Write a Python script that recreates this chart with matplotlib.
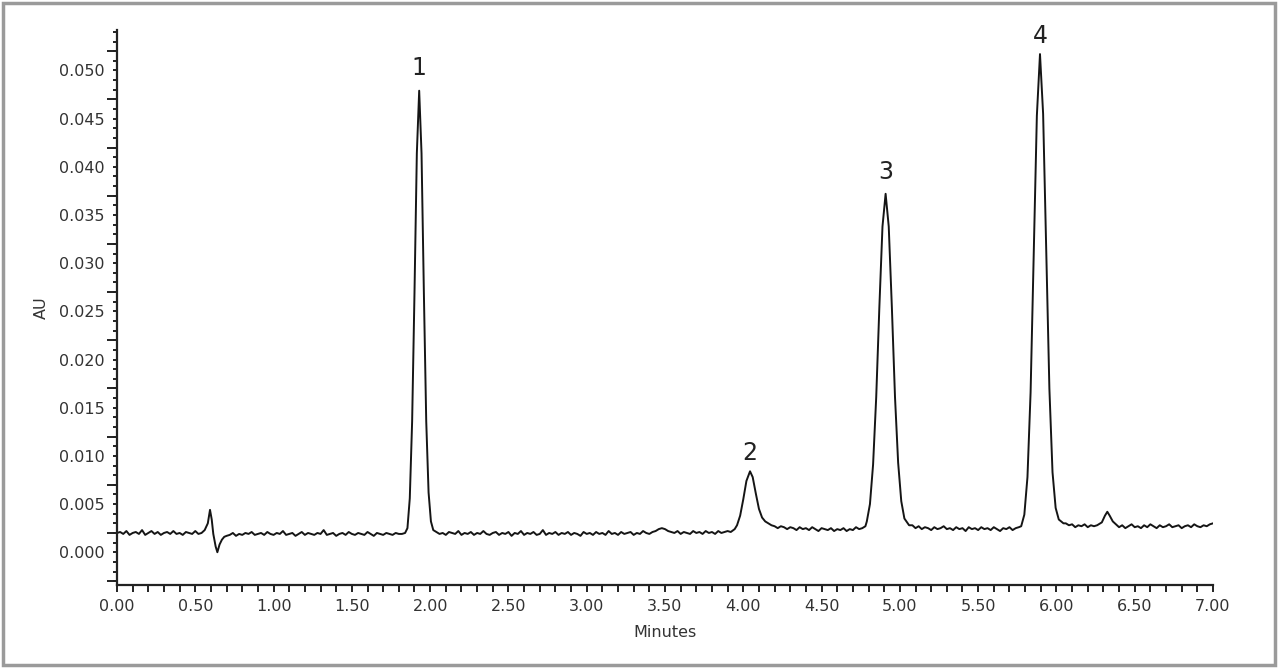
import numpy as np
import matplotlib.pyplot as plt
from matplotlib.patches import Rectangle
from matplotlib.ticker import MultipleLocator, FixedLocator, NullFormatter

# absorbance values below are in units of 0.001 AU (converted at the end)

# baseline stretches: (start, end, values sampled every 0.02 min)
base_a = (0.00, 0.56, [2.0, 2.1, 1.9, 2.2, 1.8, 2.0, 2.1, 1.9, 2.3, 1.8, 2.0, 2.2, 1.9, 2.1, 1.8,
                       2.0, 2.1, 1.9, 2.2, 1.9, 2.0, 1.8, 2.1, 2.0, 1.9, 2.2, 1.9, 2.0, 2.3])
base_b = (0.72, 1.84, [1.8, 2.0, 1.7, 1.9, 1.8, 2.0, 1.9, 2.1, 1.8, 1.9, 2.0, 1.8, 2.1, 1.9, 1.8,
                       2.0, 1.9, 2.2, 1.8, 1.9, 2.0, 1.7, 1.9, 2.1, 1.8, 2.0, 1.9, 1.8, 2.0, 1.9,
                       2.3, 1.8, 1.9, 2.0, 1.7, 1.9, 2.0, 1.8, 2.1, 1.9, 1.8, 2.0, 1.9, 1.8, 2.1,
                       1.9, 1.7, 2.0, 1.9, 1.8, 2.0, 1.9, 1.8, 2.0, 1.9, 1.9, 2.0])
base_c = (2.04, 3.92, [2.1, 1.9, 2.0, 1.8, 2.1, 2.0, 1.9, 2.2, 1.8, 2.0,
                       1.9, 2.1, 1.8, 2.0, 1.9, 2.2, 1.9, 1.8, 2.0, 2.1,
                       1.8, 2.0, 1.9, 2.1, 1.7, 2.0, 1.9, 2.2, 1.8, 2.0,
                       1.9, 2.1, 1.8, 1.9, 2.3, 1.8, 2.0, 1.9, 2.1, 1.8,
                       2.0, 1.9, 2.1, 1.8, 2.0, 1.9, 1.7, 2.1, 1.9, 2.0,
                       1.8, 2.1, 1.9, 2.0, 1.8, 2.2, 1.9, 2.0, 1.8, 2.1,
                       1.9, 2.0, 2.1, 1.8, 2.0, 1.9, 2.2, 2.0, 1.9, 2.1,
                       2.2, 2.4, 2.5, 2.4, 2.2, 2.1, 2.0, 2.2, 1.9, 2.1,
                       2.0, 1.9, 2.2, 2.0, 2.1, 1.9, 2.2, 2.0, 2.1, 1.9,
                       2.2, 2.0, 2.1, 2.2, 2.1])
base_d = (4.20, 4.78, [2.7, 2.5, 2.7, 2.6, 2.4, 2.6, 2.5, 2.3, 2.6, 2.4,
                       2.5, 2.3, 2.6, 2.4, 2.2, 2.5, 2.4, 2.3, 2.5, 2.2,
                       2.4, 2.3, 2.5, 2.2, 2.4, 2.3, 2.6, 2.4, 2.5, 2.7])
base_e = (5.08, 5.76, [2.8, 2.5, 2.7, 2.4, 2.6, 2.5, 2.3, 2.6, 2.4, 2.5,
                       2.7, 2.4, 2.5, 2.3, 2.6, 2.4, 2.5, 2.2, 2.6, 2.4,
                       2.5, 2.3, 2.6, 2.4, 2.5, 2.3, 2.6, 2.4, 2.2, 2.5,
                       2.4, 2.6, 2.3, 2.5, 2.6])
base_f = (6.06, 6.24, [3.0, 2.8, 2.9, 2.6, 2.8, 2.7, 2.9, 2.6, 2.8, 2.7])
base_g = (6.40, 7.00, [2.6, 2.8, 2.5, 2.7, 2.9, 2.6, 2.7, 2.5, 2.8, 2.6,
                       2.9, 2.7, 2.5, 2.8, 2.6, 2.7, 2.9, 2.6, 2.7, 2.8,
                       2.5, 2.7, 2.8, 2.6, 2.9, 2.7, 2.6, 2.8, 2.7, 2.9, 3.0])

# peaks: (time, value) pairs
sys_t = [0.58, 0.594, 0.605, 0.615, 0.63, 0.641, 0.655, 0.67, 0.685, 0.70]
sys_v = [3.0, 4.4, 3.4, 1.9, 0.6, 0.0, 0.8, 1.3, 1.6, 1.7]
pk1_t = [1.855, 1.870, 1.885, 1.900, 1.915, 1.930, 1.945, 1.960, 1.975, 1.990, 2.005, 2.020]
pk1_v = [2.5, 5.6, 13.6, 26.9, 41.4, 47.9, 41.4, 26.9, 13.6, 6.2, 3.2, 2.3]
pk2_t = [3.945, 3.96, 3.98, 4.00, 4.02, 4.043, 4.06, 4.08, 4.10, 4.12, 4.14, 4.16, 4.18]
pk2_v = [2.4, 2.8, 3.8, 5.5, 7.4, 8.4, 7.8, 6.1, 4.5, 3.6, 3.2, 3.0, 2.8]
pk3_t = [4.789, 4.809, 4.829, 4.849, 4.869, 4.889, 4.909, 4.929, 4.949, 4.969, 4.989, 5.009, 5.029, 5.059]
pk3_v = [3.2, 5.0, 9.1, 16.1, 25.4, 33.8, 37.2, 33.8, 25.4, 16.1, 9.3, 5.3, 3.5, 2.8]
pk4_t = [5.775, 5.795, 5.815, 5.835, 5.855, 5.875, 5.895, 5.915, 5.935, 5.955, 5.975, 5.995, 6.015, 6.045]
pk4_v = [2.7, 3.9, 7.8, 16.6, 30.7, 45.3, 51.7, 45.5, 31.0, 17.0, 8.3, 4.6, 3.4, 3.0]
bump_t = [6.26, 6.29, 6.31, 6.325, 6.34, 6.36, 6.38]
bump_v = [2.8, 3.1, 3.8, 4.2, 3.8, 3.2, 2.9]

peak_labels = ['1', '2', '3', '4']
peak_times = [1.930, 4.043, 4.909, 5.895]
peak_heights = [47.9, 8.4, 37.2, 51.7]
label_lift = [11, 6, 10, 6]  # pixels above apex


def base(seg):
    t0, t1, v = seg
    return np.linspace(t0, t1, len(v)), np.array(v)


parts = [base(base_a), (sys_t, sys_v), base(base_b), (pk1_t, pk1_v), base(base_c),
         (pk2_t, pk2_v), base(base_d), (pk3_t, pk3_v), base(base_e), (pk4_t, pk4_v),
         base(base_f), (bump_t, bump_v), base(base_g)]
t = np.concatenate([np.asarray(p[0], float) for p in parts])
au = np.concatenate([np.asarray(p[1], float) for p in parts]) / 1000

text_col = '#333333'
plt.rcParams['font.family'] = 'DejaVu Sans'

fig = plt.figure(figsize=(12.8, 6.71), dpi=100)
ax = fig.add_axes([117 / 1280, 1 - 585 / 671, (1213 - 117) / 1280, (585 - 30) / 671])

ax.plot(t, au, color='#151515', lw=1.4)

ax.set_xlim(0, 7)
ax.set_ylim(-0.0034, 0.0542)

for s in ['top', 'right']:
    ax.spines[s].set_visible(False)
for s in ['left', 'bottom']:
    ax.spines[s].set_linewidth(1.6)
    ax.spines[s].set_color('#222222')

ax.xaxis.set_major_locator(MultipleLocator(0.5))
ax.xaxis.set_minor_locator(MultipleLocator(0.1))
ax.xaxis.set_major_formatter(lambda v, p: f'{v:.2f}')
ax.yaxis.set_major_locator(MultipleLocator(0.005))
ax.yaxis.set_minor_locator(MultipleLocator(0.001))
ax.yaxis.set_major_formatter(lambda v, p: f'{v:.3f}')

ax.tick_params(axis='x', which='both', direction='out', length=5, width=1.4,
               color='#222222', labelsize=11.5, labelcolor=text_col, pad=5)
ax.tick_params(axis='y', which='both', direction='out', length=3, width=1.4,
               color='#222222', labelsize=11.5, labelcolor=text_col, pad=6)

# longer ticks on the AU axis every 0.005 offset by 0.002
sec = ax.secondary_yaxis('left')
sec.yaxis.set_major_locator(FixedLocator(np.arange(-0.003, 0.0541, 0.005)))
sec.yaxis.set_major_formatter(NullFormatter())
sec.tick_params(length=7, width=1.4, color='#222222')
sec.spines['left'].set_visible(False)

ax.set_xlabel('Minutes', fontsize=11.5, color=text_col, labelpad=8)
ax.set_ylabel('AU', fontsize=11.5, color=text_col, labelpad=7)

for lab, pt, ph, lift in zip(peak_labels, peak_times, peak_heights, label_lift):
    ax.annotate(lab, (pt, ph / 1000), xytext=(0, lift), textcoords='offset pixels',
                ha='center', va='bottom', fontsize=17, color='#222222')

fig.patches.append(Rectangle((2.5 / 1280, 6 / 671), 1272 / 1280, 662.5 / 671,
                             transform=fig.transFigure, fill=False,
                             edgecolor='#9a9a9a', lw=2.5))

fig.savefig('out.png', dpi=100)
